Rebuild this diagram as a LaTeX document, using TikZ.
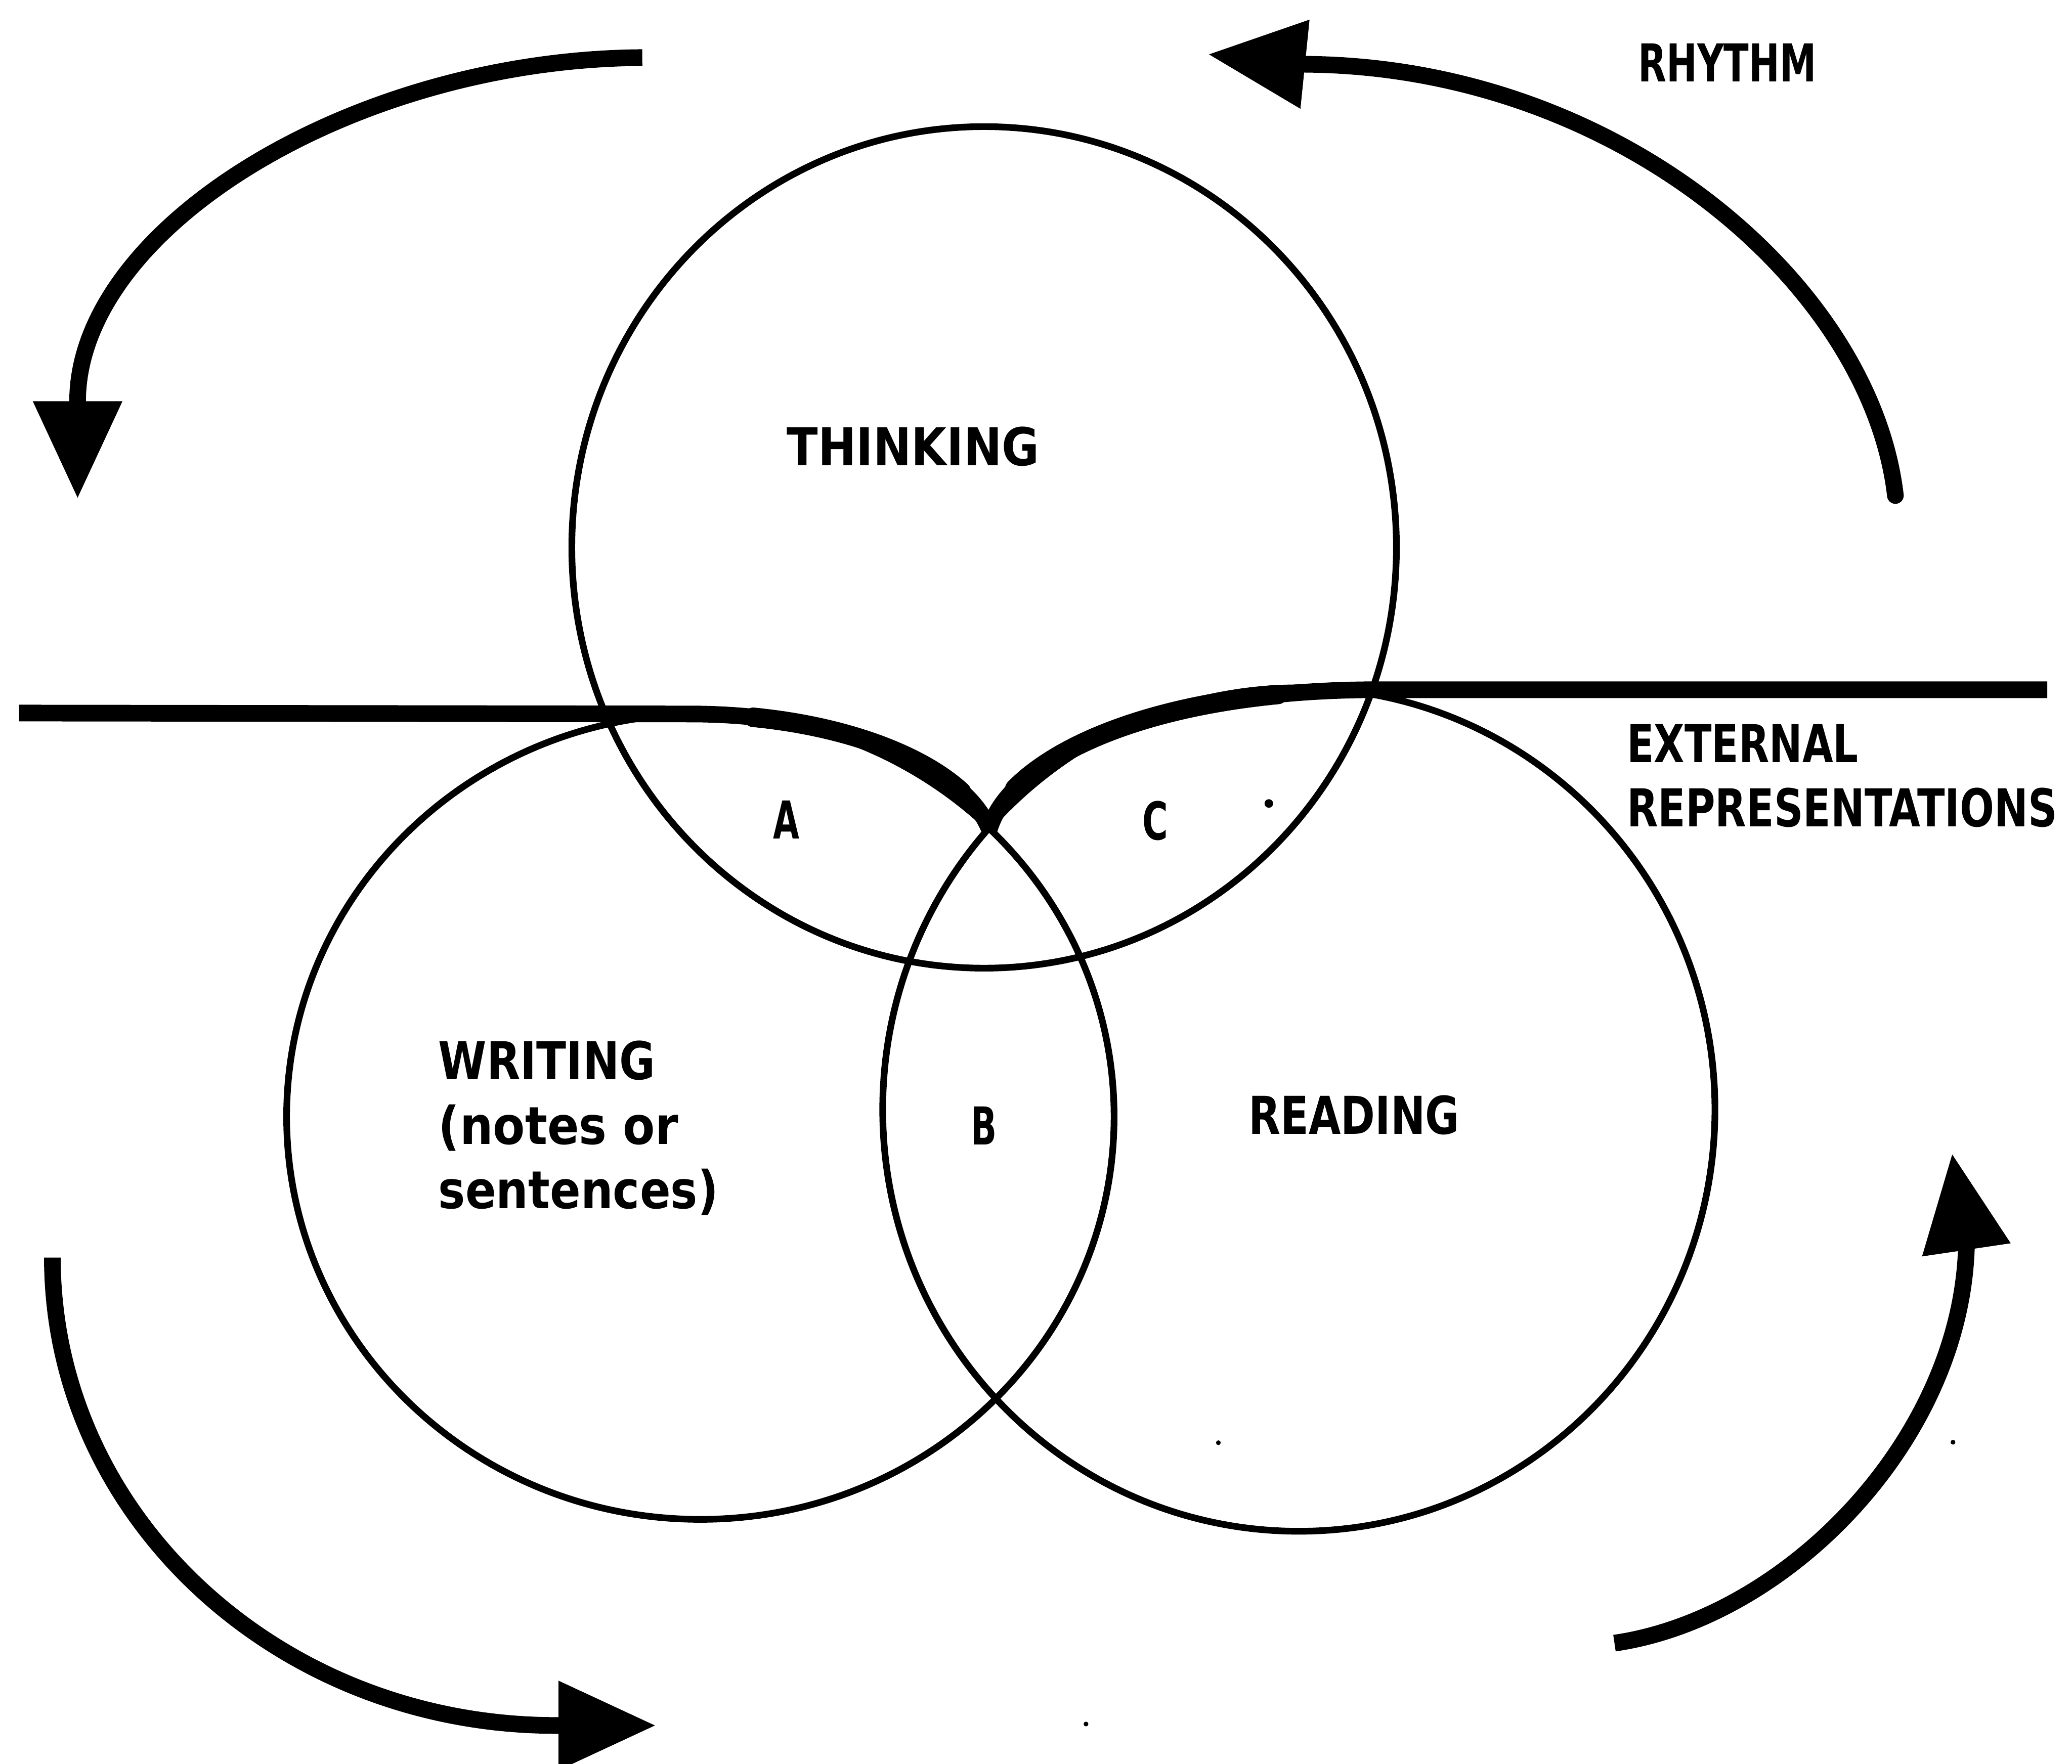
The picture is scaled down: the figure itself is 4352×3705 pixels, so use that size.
\documentclass[tikz,border=0pt]{standalone}
\usepackage{fontspec}
\usepackage{graphicx}
\usetikzlibrary{arrows.meta,shapes.geometric}
\newfontfamily\labfont{DejaVu Sans}
\newcommand{\squeeze}[2]{\scalebox{#1}[1]{#2}}

\begin{document}
\begin{tikzpicture}[x=0.1mm, y=-0.1mm,
  ring/.style={draw, ellipse, line width=1.4mm, inner sep=0pt, outer sep=0pt},
  band/.style={line width=3.5mm, line join=bevel},
  bandbulge/.style={line width=4.1mm, line cap=round},
  flow/.style={line width=3.5mm, -{Triangle[length=20.5mm,width=17.8mm]}},
  lab/.style={font={\labfont\bfseries\fontsize{31.2pt}{38.4pt}\selectfont}, inner sep=0pt, outer sep=0pt},
  speck/.style={fill=black}]

  % page
  \fill[white] (0,0) rectangle (4352,3705);
  \useasboundingbox (0,0) rectangle (4352,3705);

  % the three overlapping activities
  \node[ring, minimum width=173.2mm, minimum height=176.8mm] (think) at (2067,1150) {};
  \node[ring, minimum width=173.8mm, minimum height=169.2mm] (write) at (1471,2346) {};
  \node[ring, minimum width=174.8mm, minimum height=177.2mm] (read)  at (2728,2331) {};

  % boundary of the external representations
  \coordinate (bandL)  at (40,1498);
  \coordinate (bandLb) at (1450,1500);
  \coordinate (cusp)   at (2078,1742);
  \coordinate (bandRb) at (2890,1449);
  \coordinate (bandR)  at (4300,1449);
  \draw[band] (bandL) -- (bandLb)
      .. controls (1750,1500) and (2020,1600) .. (cusp)
      .. controls (2120,1600) and (2400,1450) .. (bandRb) -- (bandR);
  % heavier stroke on the middle of the two bends (pieces of the same curves)
  \coordinate (bulgeLa) at (1582,1507);
  \coordinate (bulgeLb) at (2019,1663);
  \coordinate (bulgeRa) at (2131.5,1657);
  \coordinate (bulgeRb) at (2684,1459);
  \draw[bandbulge] (bulgeLa) .. controls (1769,1525) and (1931,1583) .. (bulgeLb);
  \draw[bandbulge] (bulgeRa) .. controls (2220,1567) and (2406.5,1486) .. (bulgeRb);

  % rhythm arrows
  \coordinate (tlTail) at (1349,121);
  \coordinate (tlBend) at (163,843);
  \coordinate (tlTip)  at (163,1048);
  \draw[flow] (tlTail) .. controls (740,125) and (163,480) .. (tlBend) -- (tlTip);

  \coordinate (trTail) at (3981,1041);
  \coordinate (trBend) at (2742,135);
  \coordinate (trTip)  at (2537,114);
  \draw[flow, line cap=round] (trTail) .. controls (3930,600) and (3400,140) .. (trBend) -- (trTip);

  \coordinate (blTail) at (110,2642);
  \coordinate (blBend) at (1168,3625);
  \coordinate (blTip)  at (1378,3625);
  \draw[flow] (blTail) .. controls (110,3185) and (584,3625) .. (blBend) -- (blTip);

  \coordinate (brTail) at (3391,3452);
  \coordinate (brBend) at (4130,2625);
  \coordinate (brTip)  at (4100,2423);
  \draw[flow] (brTail) .. controls (3750,3400) and (4115,3030) .. (brBend) -- (brTip);

  % labels
  \node[lab, anchor=base] (thinking) at (1918,978)  {\squeeze{.874}{THINKING}};
  \node[lab, anchor=base] (rhythm)   at (3628,172)  {\squeeze{.705}{RHYTHM}};
  \node[lab, anchor=base] (regA)     at (1652,1762) {\squeeze{.65}{A}};
  \node[lab, anchor=base] (regC)     at (2427,1764) {\squeeze{.67}{C}};
  \node[lab, anchor=base] (regB)     at (2067,2405) {\squeeze{.65}{B}};
  \node[lab, anchor=base] (reading)  at (2844,2383) {\squeeze{.793}{READING}};
  \node[lab, anchor=north west, align=left] (writing) at (921,2187)
      {\squeeze{.838}{WRITING}\\\squeeze{.894}{(notes or}\\\squeeze{.868}{sentences)}};
  \node[lab, anchor=north west, align=left] (external) at (3417,1522)
      {\squeeze{.76}{EXTERNAL}\\\squeeze{.775}{REPRESENTATIONS}};

  % small marks
  \fill[speck] (2665,1688) circle [radius=9];
  \fill[speck] (2559,3031) circle [radius=5];
  \fill[speck] (2281,3622) circle [radius=5];
  \fill[speck] (4102,3030) circle [radius=5];
\end{tikzpicture}
\end{document}
